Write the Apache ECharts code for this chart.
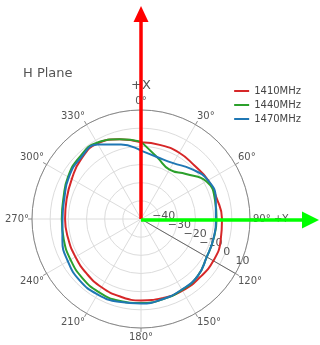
<!DOCTYPE html>
<html><head><meta charset="utf-8">
<script src="https://cdn.jsdelivr.net/npm/echarts@6/dist/echarts.min.js"></script>
<style>html,body{margin:0;padding:0;background:#fff}#c{width:320px;height:345px}</style>
</head><body><div id="c"></div>
<script>
// compass angles (deg, clockwise from +X / top)
const angles = [0,15,30,45,60,75,90,105,120,135,150,165,180,195,210,225,240,255,270,285,300,315,330,345,360];
const s1410 = [-7.8,-7.9,-7.9,-8.4,-7.3,-6.8,-5.4,-4.6,-4.0,-4.4,-4.4,-4.9,-5.2,-5.8,-6.6,-7.6,-8.3,-8.5,-8.2,-7.6,-6.0,-3.4,-2.0,-4.6,-7.8];
const s1440 = [-7.4,-15.0,-18.6,-15.0,-8.5,-7.9,-8.4,-8.6,-8.2,-5.8,-4.9,-4.2,-3.7,-3.4,-3.5,-4.2,-5.2,-6.0,-6.4,-5.8,-3.6,-2.0,-1.5,-4.6,-7.4];
const s1470 = [-12.4,-14.8,-14.5,-11.0,-7.4,-7.4,-8.8,-8.7,-8.2,-5.8,-5.1,-4.3,-3.5,-2.8,-2.1,-2.2,-3.5,-5.2,-6.8,-6.3,-4.1,-2.8,-2.6,-7.5,-12.4];
const seriesNames = ['1410MHz','1440MHz','1470MHz'];
const seriesValues = [s1410, s1440, s1470];
const colors = ['#d62728','#2ca02c','#1f77b4'];
const radialMin = -50, radialMax = 10, radialStep = 10;
const angleStep = 30;

const CX = 141, CY = 219, R = 109;
const chart = echarts.init(document.getElementById('c'));
const minus = v => (v < 0 ? '\u2212' + Math.abs(v) : String(v));

chart.setOption({
  animation: false,
  backgroundColor: '#fff',
  title: { text: 'H Plane', left: 18, top: 62, textStyle: { fontSize: 13, fontWeight: 'normal', color: '#555', fontFamily: 'DejaVu Sans' } },
  legend: {
    orient: 'vertical', right: 14, top: 81, itemGap: 4, itemWidth: 15, itemHeight: 2, icon: 'rect',
    textStyle: { fontSize: 10, color: '#444', fontFamily: 'DejaVu Sans' },
    data: seriesNames
  },
  polar: [
    { center: [CX, CY], radius: R },
    { center: [CX, CY], radius: R }
  ],
  angleAxis: [
    {
      polarIndex: 0, type: 'value', min: 0, max: 360, interval: angleStep, startAngle: 90, clockwise: true,
      axisLine: { lineStyle: { color: '#888', width: 1 } },
      axisTick: { show: true, length: 4, lineStyle: { color: '#888' } },
      splitLine: { lineStyle: { color: '#dcdcdc', width: 1 } },
      axisLabel: {
        margin: 3, fontSize: 10, color: '#555', fontFamily: 'DejaVu Sans',
        formatter: v => v === 360 ? '' : (v === 0 ? '{b|+X}\n{s|0°}' : (v === 90 ? '{s|90° +Y}' : '{s|' + v + '°}')),
        rich: { b: { fontSize: 13, color: '#555', lineHeight: 18, fontFamily: 'DejaVu Sans' }, s: { fontSize: 10, color: '#555', lineHeight: 12, fontFamily: 'DejaVu Sans' } }
      }
    },
    {
      polarIndex: 1, type: 'value', min: 0, max: 360, startAngle: -30, clockwise: true,
      axisLine: { show: false }, axisTick: { show: false }, axisLabel: { show: false }, splitLine: { show: false }
    }
  ],
  radiusAxis: [
    {
      polarIndex: 0, type: 'value', min: radialMin, max: radialMax, interval: radialStep,
      axisLine: { show: false }, axisTick: { show: false }, axisLabel: { show: false },
      splitLine: { lineStyle: { color: '#dcdcdc', width: 1 } }
    },
    {
      polarIndex: 1, type: 'value', min: radialMin, max: radialMax, interval: radialStep,
      axisLine: { show: true, lineStyle: { color: '#666', width: 1 } },
      axisTick: { show: false }, splitLine: { show: false },
      axisLabel: { show: true, fontSize: 11, color: '#555', fontFamily: 'DejaVu Sans', margin: 14,
        align: 'center', verticalAlign: 'middle',
        formatter: v => v === radialMin ? '' : minus(v) }
    }
  ],
  series: seriesNames.map((n, i) => ({
    name: n, type: 'line', coordinateSystem: 'polar', polarIndex: 0,
    smooth: 0.5, symbol: 'none', z: 5,
    lineStyle: { color: colors[i], width: 2 }, itemStyle: { color: colors[i] },
    data: angles.map((a, k) => [seriesValues[i][k], a])
  })),
  graphic: [
    { type: 'line', z: 100, shape: { x1: CX, y1: CY, x2: CX, y2: 20 }, style: { stroke: '#ff0000', lineWidth: 3.5 } },
    { type: 'polygon', z: 100, shape: { points: [[CX, 6], [CX - 7.5, 22], [CX + 7.5, 22]] }, style: { fill: '#ff0000' } },
    { type: 'line', z: 100, shape: { x1: CX, y1: CY + 1, x2: 305, y2: CY + 1 }, style: { stroke: '#00ff00', lineWidth: 3.5 } },
    { type: 'polygon', z: 100, shape: { points: [[319, CY + 1], [302, CY - 7.5], [302, CY + 9.5]] }, style: { fill: '#00ff00' } }
  ]
});
</script></body></html>
